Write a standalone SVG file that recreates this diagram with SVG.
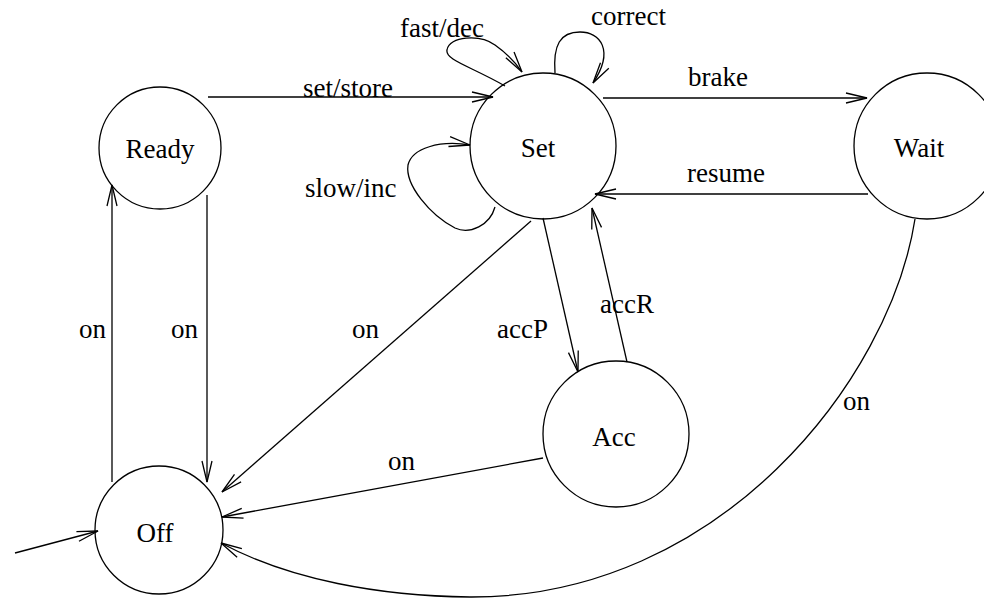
<svg xmlns="http://www.w3.org/2000/svg" width="984" height="598" viewBox="0 0 984 598">
<style>
.n{fill:none;stroke:#000;stroke-width:1.3}
.e{fill:none;stroke:#000;stroke-width:1.3;marker-end:url(#ah)}
.c{text-anchor:middle}
</style>
<defs>
<marker id="ah" markerUnits="userSpaceOnUse" markerWidth="40" markerHeight="40" refX="0" refY="0" orient="auto" overflow="visible">
<path d="M-21,-5 L0,0 L-21,5" fill="none" stroke="#000" stroke-width="1.3"/>
</marker>
</defs>
<rect width="984" height="598" fill="#fff"/>
<g id="connectors">
<path class="e" d="M208,97 L493,97"/>
<path class="e" d="M207,195 L207,482"/>
<path class="e" d="M112,482 L112,185"/>
<path class="e" d="M531,221 L222,492"/>
<path class="e" d="M543,458 L222,517"/>
<path class="e" d="M915,219 C890,380 720,598 470,597 C380,596 290,580 221,543"/>
<path class="e" d="M603,98 L867,98"/>
<path class="e" d="M868,194 L595,194"/>
<path class="e" d="M543,218 L578,372"/>
<path class="e" d="M627,362 L592,208"/>
<path class="e" d="M15,553 L98,531"/>
<path class="e" d="M505,86 C470,66 445,60 447,50 C449,36 480,34 495,45 C505,52 515,62 522,72"/>
<path class="e" d="M555,73 C553,45 560,32 580,32 C600,32 615,50 593,83"/>
<path class="e" d="M495,207 C490,225 470,235 455,228 C430,215 405,185 408,165 C412,148 440,140 470,145"/>
</g>
<g font-family="'Liberation Serif', 'Times New Roman', 'DejaVu Serif', serif" font-size="27" fill="#000">
<g id="ready"><circle class="n" cx="160" cy="148" r="61"/><text class="c" x="160" y="158">Ready</text></g>
<g id="set"><circle class="n" cx="543" cy="146" r="73"/><text class="c" x="538" y="157">Set</text></g>
<g id="wait"><circle class="n" cx="927" cy="146" r="73"/><text class="c" x="919" y="157">Wait</text></g>
<g id="acc"><circle class="n" cx="616" cy="434" r="73"/><text class="c" x="614" y="446">Acc</text></g>
<g id="off"><circle class="n" cx="159" cy="530" r="64"/><text class="c" x="155" y="542">Off</text></g>
<g id="labels">
<text x="303" y="97">set/store</text>
<text x="400" y="37">fast/dec</text>
<text x="591" y="25">correct</text>
<text x="688" y="86">brake</text>
<text x="687" y="182">resume</text>
<text x="305" y="197">slow/inc</text>
<text x="79" y="338">on</text>
<text x="171" y="338">on</text>
<text x="352" y="338">on</text>
<text x="497" y="338">accP</text>
<text x="600" y="313">accR</text>
<text x="388" y="470">on</text>
<text x="843" y="410">on</text>
</g>
</g>
</svg>
